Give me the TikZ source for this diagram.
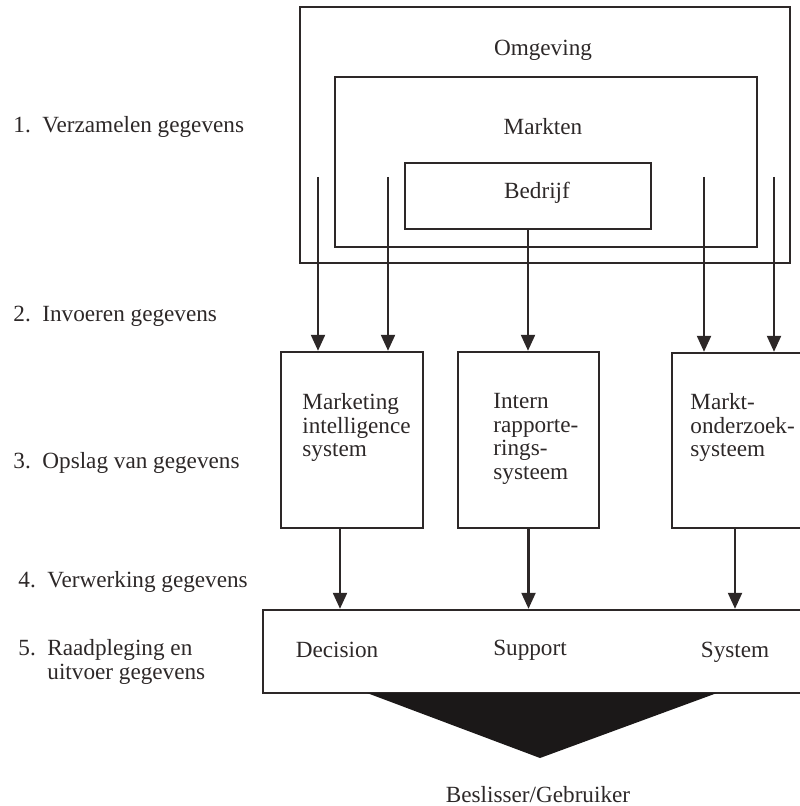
\documentclass[tikz,border=0pt]{standalone}
\usepackage{fontspec}
\setmainfont{Liberation Serif}
\usetikzlibrary{arrows.meta,fit,positioning,calc}
\definecolor{inkt}{RGB}{45,40,40}
\tikzset{
  kader/.style={draw=inkt, line width=1.2pt, inner sep=0pt},
  pijl/.style={draw=inkt, line width=1.1pt, -{Triangle[length=8pt,width=7pt]}},
  tekst/.style={text=inkt, font=\fontsize{11.6}{11.75}\selectfont, inner sep=0pt},
}
\begin{document}
\begin{tikzpicture}[x=0.5pt,y=-0.5pt]
\useasboundingbox (0,0) rectangle (799,806);
% stappen links
\node[tekst, anchor=west] (s1) at (13,127) {1.\ \ Verzamelen gegevens};
\node[tekst, anchor=west] (s2) at (13,316) {2.\ \ Invoeren gegevens};
\node[tekst, anchor=west] (s3) at (13,463) {3.\ \ Opslag van gegevens};
\node[tekst, anchor=west] (s4) at (18,582) {4.\ \ Verwerking gegevens};
\node[tekst, anchor=west, align=left] (s5) at (18,662) {5.\ \ Raadpleging en\\\phantom{5.\ \ }uitvoer gegevens};
% omgeving, markten, bedrijf
\node[kader, fit={(300,7) (790,263)}] (omg) {};
\node[kader, fit={(335,77) (757,247)}] (mkt) {};
\node[kader, fit={(405,163) (651,229)}] (bed) {};
\node[tekst] (omgt) at (543,50) {Omgeving};
\node[tekst] (mktt) at (543,127) {Markten};
\node[tekst] (bedt) at (537,193) {Bedrijf};
% systemen
\node[kader, fit={(281,352) (423,528)}] (mis) {};
\node[kader, fit={(458,352) (599,528)}] (irs) {};
\node[kader, fit={(672,353) (830,528)}] (mos) {};
\node[tekst, anchor=north west, align=left] (mist) at (302,393) {Marketing\\intelligence\\system};
\node[tekst, anchor=north west, align=left] (irst) at (493,393) {Intern\\rapporte-\\rings-\\systeem};
\node[tekst, anchor=north west, align=left] (most) at (690,393) {Markt-\\onderzoek-\\systeem};
% decision support system
\node[kader, fit={(263,610) (830,693)}] (dss) {};
\node[tekst] (dss1) at (337,650) {Decision};
\node[tekst] (dss2) at (530,650) {Support};
\node[tekst] (dss3) at (735,652) {System};
\fill[inkt!60!black] (367,693) -- (717,693) -- (540,758) -- cycle;
\node[tekst] (gebr) at (538,795) {Beslisser/Gebruiker};
% pijlen
\coordinate (i1) at (318,177);
\coordinate (i2) at (388,177);
\coordinate (i4) at (704,177);
\coordinate (i5) at (774,177);
\coordinate (k1) at (340,0);
\coordinate (k3) at (735,0);
\draw[pijl] (i1) -- (i1 |- mis.north);
\draw[pijl] (i2) -- (i2 |- mis.north);
\draw[pijl] (bed.south) -- (bed.south |- irs.north);
\draw[pijl] (i4) -- (i4 |- mos.north);
\draw[pijl] (i5) -- (i5 |- mos.north);
\draw[pijl] (mis.south -| k1) -- (dss.north -| k1);
\draw[pijl] (irs.south) -- (irs.south |- dss.north);
\draw[pijl] (mos.south -| k3) -- (dss.north -| k3);
\end{tikzpicture}
\end{document}
